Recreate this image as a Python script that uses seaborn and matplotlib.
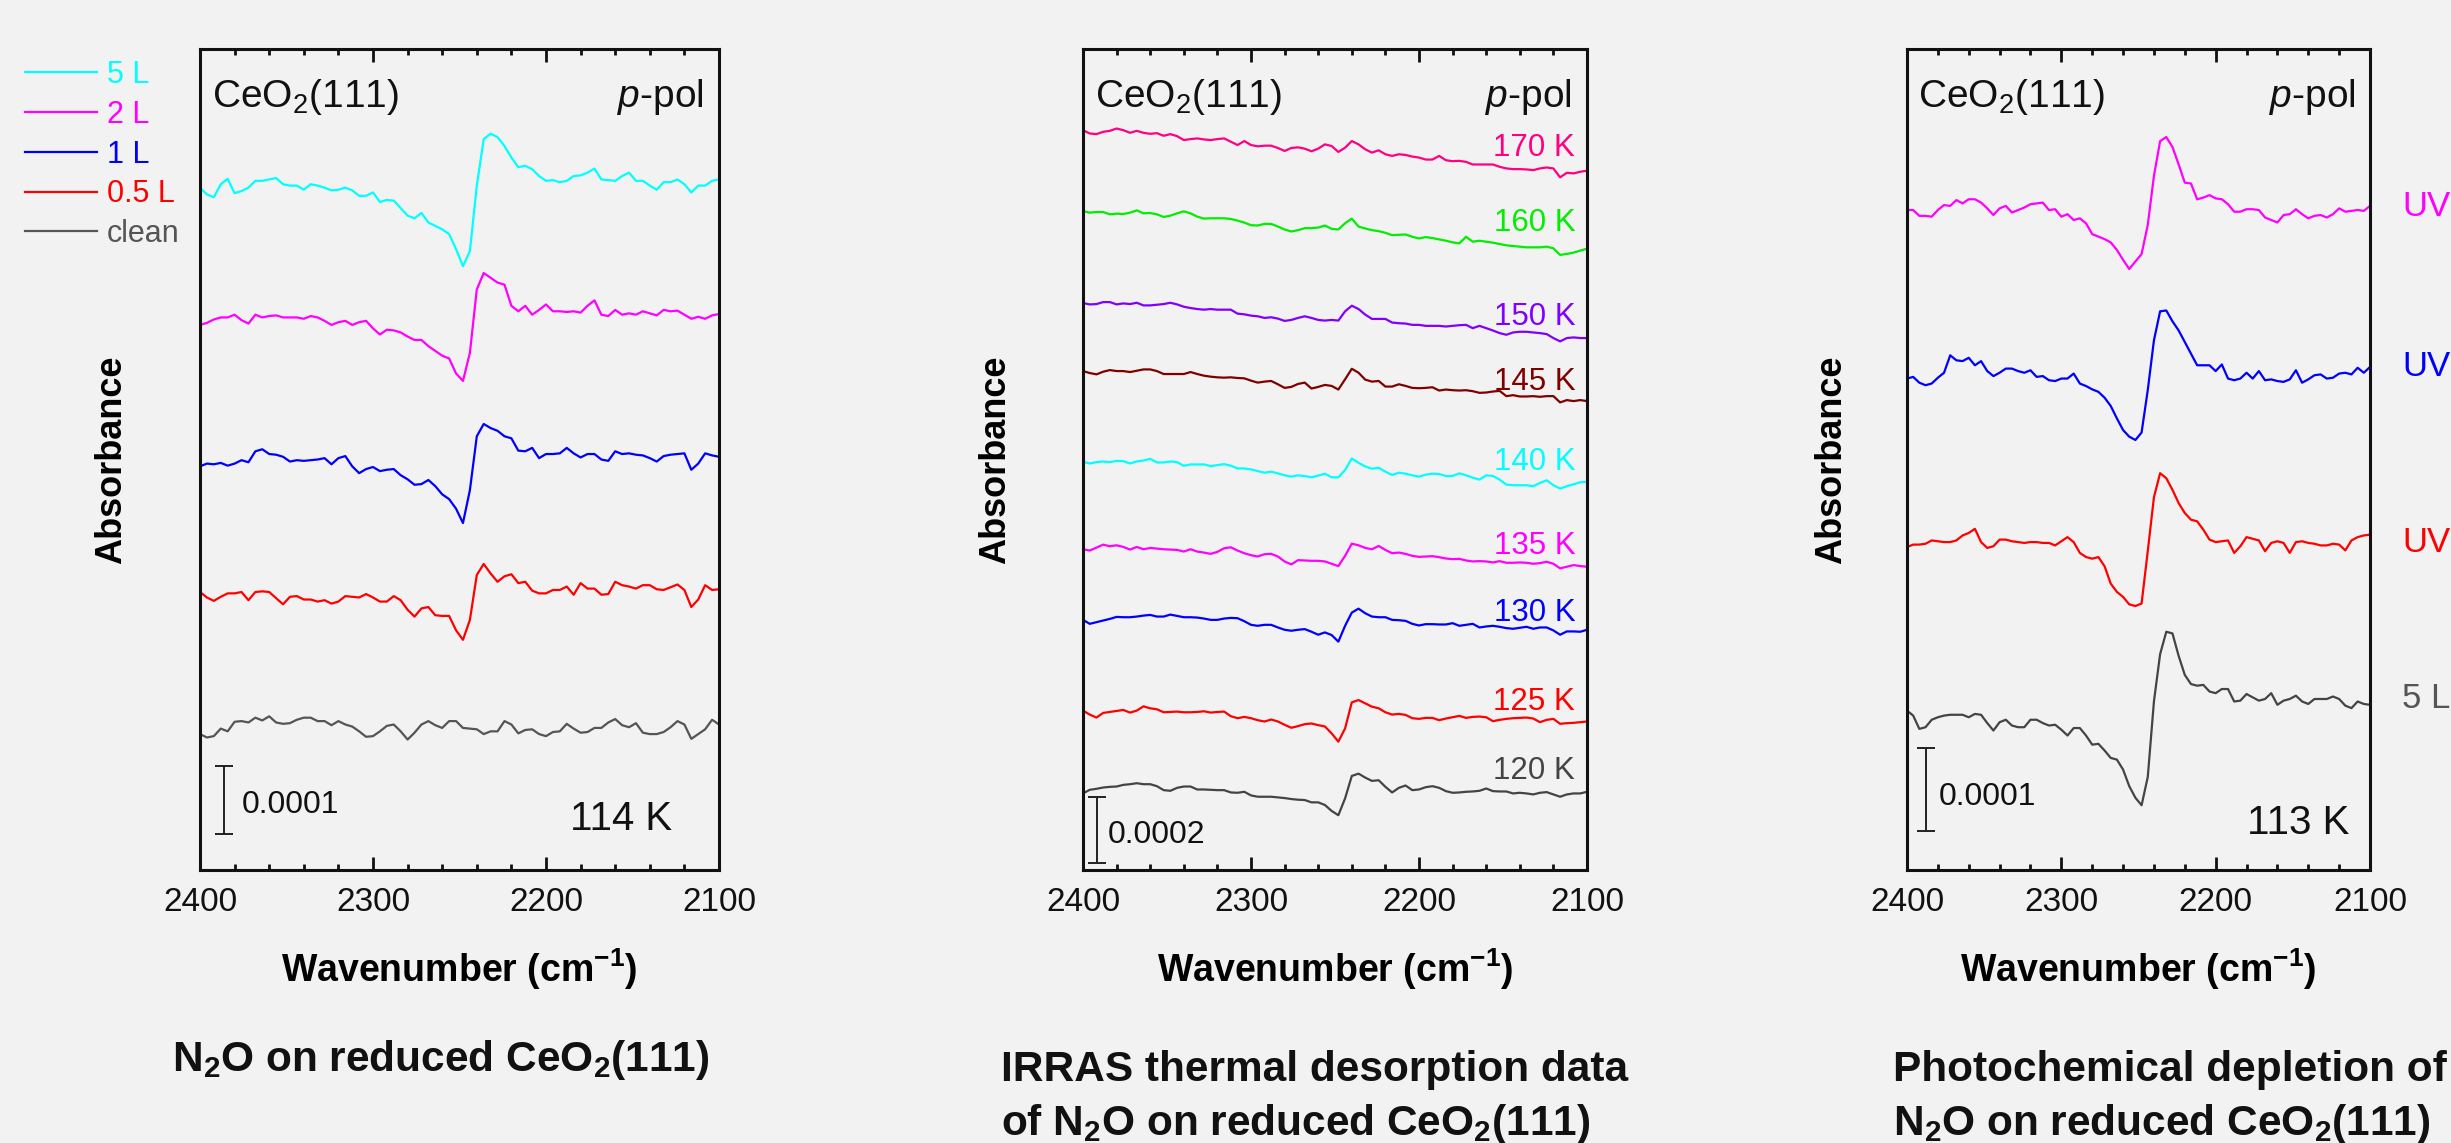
import numpy as np
import pandas as pd
import matplotlib
matplotlib.use("Agg")
import matplotlib.pyplot as plt
from matplotlib.ticker import MultipleLocator
import seaborn as sns

# shared wavenumber grid (cm-1), 4 cm-1 steps
wavenumber = list(range(2400, 2099, -4))

# ---- panel 1: N2O dose series, 114 K (values in 1e-5 absorbance, relative to each trace's baseline)
p1_labels = ["5 L", "2 L", "1 L", "0.5 L", "clean"]
p1_colors = ["#00FFFF", "#FF00FF", "#0000FF", "#FF0000", "#555555"]
p1_offsets = [99.9, 80.1, 59.3, 40.6, 20.1]
p1_5L = [0, -1.0, -1.4, 0.5, 1.3, -0.8, -0.5, 0, 1.0, 1.0,
         1.2, 1.4, 0.5, 0.3, 0.3, -0.3, 0.5, 0.3, 0, -0.4,
         -0.3, 0, -0.4, -1.2, -1.2, -0.7, -2.1, -1.8, -1.9, -3.0,
         -4.1, -4.5, -3.7, -5.1, -5.6, -6.1, -6.8, -9.0, -11.5, -9.3,
         0.3, 7.1, 7.9, 7.4, 6.1, 4.4, 3.0, 3.2, 2.7, 1.7,
         1.0, 1.1, 0.8, 1.0, 1.7, 1.8, 2.2, 2.8, 1.2, 1.1,
         1.0, 1.7, 2.2, 1.0, 1.0, 0.3, -0.3, 0.8, 0.8, 1.2,
         0.5, -0.7, 0.3, 0.3, 1.0, 1.2]
p1_2L = [-0.3, 0, 0.5, 0.8, 0.8, 1.2, 0.4, -0.1, 1.2, 0.8,
         1.0, 1.1, 0.8, 0.8, 0.8, 0.6, 1.0, 0.8, 0.3, -0.3,
         0.1, 0.3, -0.3, 0.1, 0.3, -0.8, -1.7, -1.0, -1.1, -1.4,
         -2.0, -2.5, -2.5, -3.4, -4.1, -4.8, -5.2, -7.4, -8.5, -4.4,
         4.9, 7.3, 6.6, 5.9, 5.6, 2.5, 1.7, 2.5, 1.2, 1.9,
         2.7, 1.7, 1.7, 1.6, 1.7, 1.5, 2.5, 3.3, 1.2, 1.0,
         1.9, 1.2, 1.4, 1.2, 1.7, 1.4, 1.1, 1.9, 1.7, 1.8,
         1.2, 0.6, 0.9, 0.6, 1.1, 1.3]
p1_1L = [-0.2, 0.2, 0.1, 0.3, -0.1, 0.2, 0.7, 0.4, 2.0, 2.3,
         1.6, 1.5, 1.2, 0.5, 0.7, 0.6, 0.7, 0.8, 1.0, 0.1,
         1.0, 1.3, -0.2, -1.2, -0.6, -0.3, -0.9, -0.7, -0.6, -1.5,
         -2.1, -2.9, -2.8, -2.2, -3.1, -4.3, -5.0, -6.4, -8.5, -3.7,
         4.2, 6.0, 5.4, 5.0, 4.2, 3.9, 2.1, 2.0, 2.5, 1.0,
         1.6, 1.6, 1.7, 2.5, 1.7, 1.1, 1.6, 1.6, 0.8, 0.6,
         2.0, 1.6, 1.7, 1.5, 1.4, 1.0, 0.5, 1.3, 1.5, 1.6,
         1.7, -0.7, 0.2, 1.7, 1.4, 1.2]
p1_05L = [0.1, -0.7, -1.2, -0.6, -0.1, -0.1, 0.1, -1.1, 0.1, 0.2,
          0.1, -0.8, -1.7, -0.6, -0.5, -1.0, -1.0, -1.3, -1.1, -1.6,
          -1.3, -0.5, -0.6, -0.7, -0.2, -0.7, -1.3, -1.3, -0.5, -1.1,
          -2.5, -3.5, -2.3, -2.1, -3.3, -3.4, -3.4, -5.5, -6.9, -4.0,
          2.6, 4.2, 2.8, 1.6, 2.4, 2.7, 1.4, 1.6, 0.3, -0.1,
          -0.1, 0.4, 0.4, 0.9, -0.3, 1.4, 0.6, 0.6, -0.3, -0.2,
          1.6, 1.1, 0.9, 0.6, 1.1, 1.1, 0.5, 0.4, 0.8, 1.2,
          0.4, -2.1, -1.0, 1.1, 0.4, 0.5]
p1_clean = [-0.2, -0.7, -0.5, 0.6, 0.2, 1.6, 1.7, 1.5, 2.2, 1.8,
            2.4, 1.5, 1.3, 1.4, 1.9, 2.2, 2.2, 1.7, 1.7, 1.1,
            1.7, 1.2, 0.9, 0.2, -0.6, -0.5, 0.2, 1.0, 1.2, 0.2,
            -1.0, 0, 1.2, 1.7, 1.1, 0.7, 1.7, 1.7, 0.7, 0.6,
            0.5, -0.2, 0.2, 0.2, 1.7, 1.2, -0.1, 0.4, 0.5, -0.2,
            -0.5, 0.1, 0.2, 1.3, 0.6, 0, 0.1, 0.7, 0.7, 1.5,
            2.0, 1.1, 0.8, 1.4, 0, -0.2, -0.2, 0.1, 0.8, 1.7,
            1.2, -0.9, -0.2, 0.5, 1.9, 1.2]

# ---- panel 2: thermal desorption series
p2_labels = ["170 K", "160 K", "150 K", "145 K", "140 K", "135 K", "130 K", "125 K", "120 K"]
p2_colors = ["#FF0080", "#00EE00", "#8000FF", "#800000", "#00FFFF", "#FF00FF", "#0000FF", "#FF0000", "#444444"]
p2_offsets = [224.2, 199.7, 171.8, 151.2, 123.7, 97.2, 75.8, 48.3, 23.2]
p2_label_y = [218.8, 196.0, 167.6, 148.0, 123.6, 98.2, 77.9, 50.9, 29.9]
p2_170 = [0, -1.0, -1.2, -0.5, -0.2, 0.5, 0, -0.8, -0.2, -0.8,
          -1.1, -0.9, -1.7, -1.2, -1.8, -3.0, -2.7, -2.5, -2.8, -3.0,
          -2.7, -2.5, -3.5, -4.5, -3.3, -4.5, -4.9, -4.7, -4.7, -5.4,
          -6.3, -5.4, -5.2, -5.6, -6.4, -5.6, -4.3, -4.8, -6.6, -5.3,
          -3.3, -4.3, -5.8, -6.8, -6.1, -7.3, -7.8, -7.3, -7.5, -8.0,
          -8.3, -8.9, -8.9, -7.8, -9.1, -9.4, -9.3, -9.6, -10.4, -10.4,
          -10.4, -10.4, -11.1, -11.6, -11.8, -11.8, -11.9, -12.1, -11.6, -11.3,
          -11.6, -14.3, -12.9, -13.1, -12.6, -12.3]
p2_160 = [0, -0.5, -0.3, -0.3, -1.0, -0.8, -0.9, -0.5, 0.2, -0.7,
          -0.6, -1.0, -1.8, -1.4, -0.7, -0.1, -0.7, -1.7, -2.3, -2.2,
          -2.2, -2.2, -2.4, -2.9, -3.5, -4.3, -4.4, -3.9, -3.9, -4.7,
          -5.6, -6.2, -5.8, -5.2, -5.2, -5.0, -4.4, -5.4, -5.6, -3.7,
          -2.3, -4.7, -5.3, -5.8, -6.1, -6.6, -7.3, -7.2, -7.1, -7.8,
          -8.3, -7.9, -8.2, -8.6, -9.0, -9.5, -9.8, -7.8, -9.3, -9.0,
          -9.3, -9.6, -10.0, -10.4, -10.6, -10.8, -11.0, -11.0, -11.0, -10.8,
          -11.3, -13.3, -13.0, -12.6, -12.0, -11.4]
p2_150 = [0, -0.4, -0.3, 0.3, 0.3, -0.4, -0.1, -0.3, 0.1, -0.7,
          -0.7, -0.5, -0.3, 0.1, -0.4, -1.1, -1.5, -1.8, -2.0, -1.8,
          -2.0, -2.0, -2.0, -3.2, -3.4, -3.8, -4.0, -4.5, -4.3, -4.7,
          -5.4, -5.1, -4.5, -4.0, -4.5, -5.1, -5.3, -5.1, -5.3, -2.5,
          -0.8, -1.8, -3.5, -4.8, -4.8, -4.8, -5.9, -6.1, -6.2, -6.6,
          -6.6, -6.9, -6.9, -6.9, -7.1, -6.9, -6.7, -6.6, -7.6, -6.9,
          -7.6, -8.3, -9.1, -9.6, -8.9, -8.7, -8.7, -8.9, -9.1, -9.4,
          -10.6, -11.6, -10.6, -10.4, -10.6, -10.6]
p2_145 = [0, -0.6, -1.0, -0.2, 0.3, 0, 0, -0.3, 0.1, 0.5,
          0.5, 0, -0.9, -0.9, -0.9, -0.9, -0.3, -0.9, -1.4, -1.7,
          -1.9, -2.0, -1.9, -2.1, -2.2, -2.9, -3.5, -3.2, -3.0, -4.0,
          -5.1, -4.8, -3.9, -3.5, -5.3, -4.8, -4.2, -4.5, -5.6, -2.5,
          0.7, -0.5, -2.6, -3.2, -3.0, -4.7, -4.7, -4.0, -4.5, -5.1,
          -5.2, -5.1, -4.9, -5.9, -5.6, -5.8, -5.9, -5.8, -6.1, -6.6,
          -6.5, -6.2, -6.0, -7.6, -7.3, -7.7, -7.7, -7.6, -7.8, -7.6,
          -7.6, -9.5, -8.8, -9.1, -8.8, -9.1]
p2_140 = [0, -0.5, -0.1, 0.1, -0.1, 0.3, 0.2, -0.5, 0.1, 0.4,
          0.9, -0.2, -0.2, 0.1, -0.1, -1.2, -0.8, -0.8, -0.8, -1.3,
          -1.0, -0.7, -1.2, -2.0, -2.0, -2.3, -2.8, -3.3, -3.0, -3.5,
          -4.1, -4.5, -4.1, -4.3, -4.7, -4.2, -3.6, -4.7, -4.7, -2.5,
          1.0, -0.3, -1.4, -2.1, -1.8, -3.0, -4.0, -3.3, -3.6, -4.1,
          -4.5, -3.9, -3.6, -3.7, -4.3, -4.3, -3.5, -4.1, -4.8, -5.4,
          -4.1, -4.3, -5.4, -6.9, -7.1, -7.1, -7.1, -7.4, -6.4, -5.6,
          -7.1, -8.1, -7.4, -6.8, -6.2, -6.1]
p2_135 = [0, -0.4, 0.5, 1.4, 0.9, 1.2, 0.7, -0.1, 0.7, 0,
          0.4, 0.2, 0, -0.1, -0.2, -0.7, 0, -0.7, -1.0, -1.4,
          -0.8, 0.3, 0.6, -0.4, -1.2, -1.8, -2.2, -1.5, -1.4, -2.2,
          -3.7, -4.6, -3.3, -3.4, -3.5, -3.5, -3.7, -4.4, -5.1, -2.0,
          1.7, 1.2, 0.4, 0, 1.0, -0.2, -1.2, -1.0, -1.4, -2.0,
          -2.3, -2.2, -2.1, -2.4, -2.8, -3.0, -2.9, -3.4, -3.7, -3.6,
          -3.7, -4.0, -3.6, -4.1, -4.1, -4.0, -4.1, -4.4, -4.2, -3.8,
          -4.4, -5.8, -5.3, -4.8, -5.1, -5.3]
p2_130 = [0, -1.2, -0.7, -0.2, 0.3, 0.9, 0.8, 0.8, 1.0, 1.3,
          1.5, 1.0, 1.0, 1.6, 1.2, 0.8, 0.8, 0.7, 0.4, 0,
          0, 0.4, 0.6, 0.5, -0.4, -1.5, -1.8, -1.5, -1.5, -2.3,
          -3.0, -3.3, -3.0, -2.8, -3.6, -4.5, -3.8, -4.6, -6.6, -1.8,
          2.2, 3.4, 2.0, 1.0, 0.8, 0.8, 0, -0.1, -0.3, -1.2,
          -1.7, -1.3, -1.3, -1.4, -1.4, -1.0, -1.8, -1.5, -1.2, -2.3,
          -2.0, -1.8, -2.1, -2.5, -2.7, -2.4, -2.1, -2.7, -2.3, -2.3,
          -3.2, -4.5, -3.5, -3.5, -3.6, -3.0]
p2_125 = [0, -1.2, -2.1, -0.7, -0.4, -0.1, 0.2, -0.6, 0, 1.3,
          0.7, 0.4, -0.5, -0.4, -0.3, -0.5, -0.5, -0.4, -0.2, -0.6,
          -0.4, -0.3, -1.7, -2.3, -1.9, -2.3, -2.9, -3.3, -2.7, -3.3,
          -4.3, -5.2, -4.7, -4.1, -3.9, -4.4, -4.8, -6.9, -9.4, -5.4,
          2.5, 3.2, 2.2, 1.2, 0.7, -0.5, -1.2, -1.0, -1.3, -2.3,
          -2.5, -2.2, -2.2, -2.9, -2.4, -2.0, -1.6, -2.2, -1.9, -1.8,
          -2.0, -3.2, -2.8, -2.5, -2.3, -2.2, -2.1, -2.4, -3.5, -2.8,
          -2.5, -4.0, -3.8, -3.7, -3.5, -3.3]
p2_120 = [0, 1.1, 1.4, 1.8, 2.0, 2.1, 2.6, 2.8, 3.1, 2.8,
          2.8, 2.2, 1.0, 0.8, 1.7, 2.1, 2.1, 1.2, 1.2, 1.1,
          1.0, 1.0, 0.3, 0.2, 0.5, -0.6, -1.0, -1.0, -1.0, -1.2,
          -1.4, -1.7, -1.9, -2.0, -2.7, -2.7, -3.5, -5.3, -6.6, -1.5,
          5.3, 6.0, 4.8, 3.8, 4.0, 2.0, 0.3, 1.7, 2.4, 1.0,
          1.2, 1.9, 2.2, 1.7, 0.7, 0.2, 0.3, 0.5, 0.6, 0.8,
          1.5, 0.7, 0.6, 0.6, 0, 0.2, 0, -0.3, 0.2, 0.4,
          -0.3, -1.0, -0.3, 0, 0, 0.5]

# ---- panel 3: photochemical depletion, 113 K
p3_labels = ["UV a", "UV b", "UV c", "5 L"]
p3_text = ["UV", "UV", "UV", "5 L"]
p3_colors = ["#FF00FF", "#0000FF", "#FF0000", "#444444"]
p3_text_colors = ["#FF00FF", "#0000FF", "#FF0000", "#555555"]
p3_offsets = [79.5, 59.2, 38.9, 19.2]
p3_label_y = [79.9, 60.7, 39.5, 20.6]
p3_uv_a = [0, 0, -0.7, -0.7, -0.8, 0, 0.6, 0.5, 1.2, 0.8,
           1.3, 1.3, 0.9, 0.2, -0.6, 0.2, 0.5, -0.3, 0, 0.3,
           0.7, 0.8, 0.9, 0, 0.1, -0.8, -0.5, -1.2, -1.0, -1.6,
           -2.9, -3.2, -3.5, -3.9, -4.8, -6.0, -7.1, -6.2, -5.3, -1.8,
           4.1, 8.3, 8.8, 7.6, 5.5, 3.3, 3.2, 1.3, 1.5, 1.8,
           1.4, 1.3, 0.7, -0.2, -0.2, 0.1, 0.1, 0, -0.9, -1.2,
           -1.5, -0.6, -0.5, 0.1, -0.5, -1.0, -0.7, -0.6, -0.9, -0.5,
           0.2, -0.2, -0.1, 0, -0.1, 0.5]
p3_uv_b = [0, 0.2, -0.5, -0.8, -0.6, 0.1, 0.7, 2.8, 2.2, 2.1,
           2.5, 1.6, 2.1, 0.9, 0.3, 0.7, 1.2, 1.2, 0.9, 0.7,
           1.0, 0.2, 0.3, -0.2, -0.3, 0, 0, 0.6, -0.6, -0.9,
           -1.3, -1.6, -2.3, -3.3, -4.8, -6.2, -7.0, -7.4, -6.5, -1.4,
           4.6, 8.1, 8.2, 6.9, 5.8, 4.4, 3.0, 1.6, 1.6, 1.6,
           0.9, 1.7, 0, -0.2, 0, 0.7, 0, 0.9, -0.2, -0.1,
           -0.3, -0.4, -0.1, 1.0, -0.5, -0.1, 0.4, 0.5, 0, 0.1,
           0.6, 0.7, 0.5, 1.3, 0.7, 1.4]
p3_uv_c = [0, 0.3, 0.3, 0.4, 0.8, 0.7, 0.6, 0.6, 0.8, 1.4,
           1.7, 2.2, 0.6, -0.1, 0.1, 0.9, 0.9, 0.7, 0.6, 0.5,
           0.6, 0.6, 0.5, 0.5, 0.2, 0.7, 1.2, 0.6, -0.7, -1.2,
           -1.4, -1.2, -2.3, -4.4, -5.4, -6.0, -6.9, -7.1, -6.8, -0.5,
           6.0, 8.9, 8.3, 6.9, 5.3, 4.1, 3.3, 3.1, 2.1, 0.9,
           0.6, 0.7, 0.8, -0.7, 0.1, 1.2, 1.0, 0.8, -0.5, 0.5,
           0.7, 0.5, -0.7, 0.6, 0.7, 0.5, 0.4, 0.2, 0.2, 0.4,
           0.3, -0.4, 0.8, 1.2, 1.4, 1.5]
p3_5L = [0, -0.6, -2.2, -2.0, -1.1, -0.8, -0.6, -0.5, -0.5, -0.5,
         -0.8, -0.4, -0.5, -1.5, -2.4, -1.4, -1.1, -1.8, -2.0, -2.0,
         -1.1, -1.1, -1.5, -1.8, -1.7, -2.3, -3.0, -2.1, -2.1, -3.0,
         -4.1, -4.0, -4.8, -5.7, -5.9, -7.1, -9.1, -10.5, -11.4, -8.0,
         1.1, 6.8, 9.5, 9.3, 6.6, 4.3, 3.2, 3.0, 3.1, 2.3,
         2.1, 2.6, 2.6, 1.1, 1.2, 2.0, 1.6, 1.2, 1.4, 2.1,
         0.7, 1.2, 1.4, 1.8, 1.1, 0.8, 1.4, 1.4, 1.4, 1.7,
         1.4, 0.6, 0.3, 1.1, 0.8, 0.7]

tick_values = [2400, 2300, 2200, 2100]

# ---- style
bg = "#f2f2f2"
plt.rcParams["font.family"] = ["Liberation Sans", "DejaVu Sans"]
plt.rcParams["mathtext.fontset"] = "custom"
plt.rcParams["mathtext.rm"] = "Liberation Sans"
plt.rcParams["mathtext.it"] = "Liberation Sans:italic"
plt.rcParams["mathtext.bf"] = "Liberation Sans:bold"
plt.rcParams["figure.facecolor"] = bg
plt.rcParams["axes.facecolor"] = bg
plt.rcParams["savefig.facecolor"] = bg
plt.rcParams["text.color"] = "#111111"

W, H = 2451, 1143
fig = plt.figure(figsize=(W / 100, H / 100), dpi=100)

TITLE_FS = 30.5
TITLE_Y1, TITLE_Y2 = -0.257, -0.3225


def px_axes(left, right, top, bottom):
    return fig.add_axes([left / W, 1 - bottom / H, (right - left) / W, (bottom - top) / H])


def long_frame(series, labels, offsets):
    rows = []
    for vals, lab, off in zip(series, labels, offsets):
        for w, v in zip(wavenumber, vals):
            rows.append((w, off + v, lab))
    return pd.DataFrame(rows, columns=["wavenumber", "absorbance", "trace"])


def style_axes(ax, ymax, ylab_x):
    ax.set_xlim(2400, 2100)
    ax.set_ylim(0, ymax)
    ax.set_xticks(tick_values)
    ax.xaxis.set_minor_locator(MultipleLocator(20))
    ax.tick_params(axis="x", which="both", direction="in", top=True, bottom=True,
                   labelsize=24, pad=12.5, width=2, colors="#111111")
    ax.tick_params(axis="x", which="major", length=9.5)
    ax.tick_params(axis="x", which="minor", length=4.5)
    ax.tick_params(axis="y", left=False, right=False, labelleft=False)
    for s in ax.spines.values():
        s.set_linewidth(2.2)
        s.set_color("#111111")
    ax.set_xlabel("Wavenumber (cm$^{\\mathbf{-1}}$)", fontsize=27, fontweight="bold")
    ax.xaxis.set_label_coords(0.5, -0.136)
    ax.xaxis.label.set_verticalalignment("baseline")
    ax.set_ylabel("Absorbance", fontsize=26, fontweight="bold")
    ax.yaxis.set_label_coords(ylab_x, 0.5)
    ax.yaxis.label.set_verticalalignment("center")
    ax.text(0.024, 0.929, "CeO$_2$(111)", transform=ax.transAxes, fontsize=28, va="baseline")
    ax.text(0.970, 0.929, "$p$-pol", transform=ax.transAxes, fontsize=28, va="baseline", ha="right")


def scale_bar(ax, x, y0, size, text_x, text_y, label):
    ax.errorbar([x], [y0 + size / 2], yerr=[size / 2], fmt="none", ecolor="#222222",
                elinewidth=1.4, capsize=6.5, capthick=1.4)
    ax.text(text_x, text_y, label, transform=ax.transAxes, fontsize=23, va="baseline")


# ---- panel 1
ax1 = px_axes(200, 719, 49, 870)
df1 = long_frame([p1_5L, p1_2L, p1_1L, p1_05L, p1_clean], p1_labels, p1_offsets)
sns.lineplot(data=df1, x="wavenumber", y="absorbance", hue="trace", hue_order=p1_labels,
             palette=dict(zip(p1_labels, p1_colors)), estimator=None, sort=False,
             linewidth=1.6, ax=ax1)
style_axes(ax1, 120.2, -0.170)
handles, labels = ax1.get_legend_handles_labels()
leg = ax1.legend(handles, labels, loc="upper left", bbox_to_anchor=(25 / W, 1 - 60 / H),
                 bbox_transform=fig.transFigure, frameon=False, fontsize=22,
                 handlelength=2.35, handletextpad=0.33, labelspacing=0.32,
                 borderpad=0, borderaxespad=0, labelcolor="linecolor")
for ln in leg.get_lines():
    ln.set_linewidth(1.6)
scale_bar(ax1, 2386, 5.2, 10, 0.081, 0.069, "0.0001")
ax1.text(0.811, 0.049, "114 K", transform=ax1.transAxes, fontsize=29, ha="center", va="baseline")
ax1.text(0.464, -0.245, "N$_\\mathbf{2}$O on reduced CeO$_\\mathbf{2}$(111)",
         transform=ax1.transAxes, fontsize=TITLE_FS, fontweight="bold", ha="center", va="baseline")

# ---- panel 2
ax2 = px_axes(1083, 1587, 49, 870)
df2 = long_frame([p2_170, p2_160, p2_150, p2_145, p2_140, p2_135, p2_130, p2_125, p2_120],
                 p2_labels, p2_offsets)
sns.lineplot(data=df2, x="wavenumber", y="absorbance", hue="trace", hue_order=p2_labels,
             palette=dict(zip(p2_labels, p2_colors)), estimator=None, sort=False,
             linewidth=1.6, legend=False, ax=ax2)
style_axes(ax2, 248.8, -0.173)
for lab, col, yv in zip(p2_labels, p2_colors, p2_label_y):
    ax2.text(2107, yv, lab, color=col, fontsize=22.5, ha="right", va="center")
scale_bar(ax2, 2391.5, 2.1, 20, 0.049, 0.033, "0.0002")
ax2.text(-0.162, TITLE_Y1, "IRRAS thermal desorption data", transform=ax2.transAxes,
         fontsize=TITLE_FS, fontweight="bold", ha="left", va="baseline")
ax2.text(-0.162, TITLE_Y2, "of N$_\\mathbf{2}$O on reduced CeO$_\\mathbf{2}$(111)", transform=ax2.transAxes,
         fontsize=TITLE_FS, fontweight="bold", ha="left", va="baseline")

# ---- panel 3
ax3 = px_axes(1907, 2370, 49, 870)
df3 = long_frame([p3_uv_a, p3_uv_b, p3_uv_c, p3_5L], p3_labels, p3_offsets)
sns.lineplot(data=df3, x="wavenumber", y="absorbance", hue="trace", hue_order=p3_labels,
             palette=dict(zip(p3_labels, p3_colors)), estimator=None, sort=False,
             linewidth=1.6, legend=False, ax=ax3)
style_axes(ax3, 98.9, -0.162)
for txt, col, yv in zip(p3_text, p3_text_colors, p3_label_y):
    ax3.text(1.069, yv, txt, color=col, fontsize=25, ha="left", va="center",
             transform=ax3.get_yaxis_transform(), clip_on=False)
scale_bar(ax3, 2388, 4.7, 10, 0.069, 0.079, "0.0001")
ax3.text(0.845, 0.044, "113 K", transform=ax3.transAxes, fontsize=29, ha="center", va="baseline")
ax3.text(-0.030, TITLE_Y1, "Photochemical depletion of", transform=ax3.transAxes,
         fontsize=TITLE_FS, fontweight="bold", ha="left", va="baseline")
ax3.text(-0.030, TITLE_Y2, "N$_\\mathbf{2}$O on reduced CeO$_\\mathbf{2}$(111)", transform=ax3.transAxes,
         fontsize=TITLE_FS, fontweight="bold", ha="left", va="baseline")

fig.savefig("out.png", dpi=100)
